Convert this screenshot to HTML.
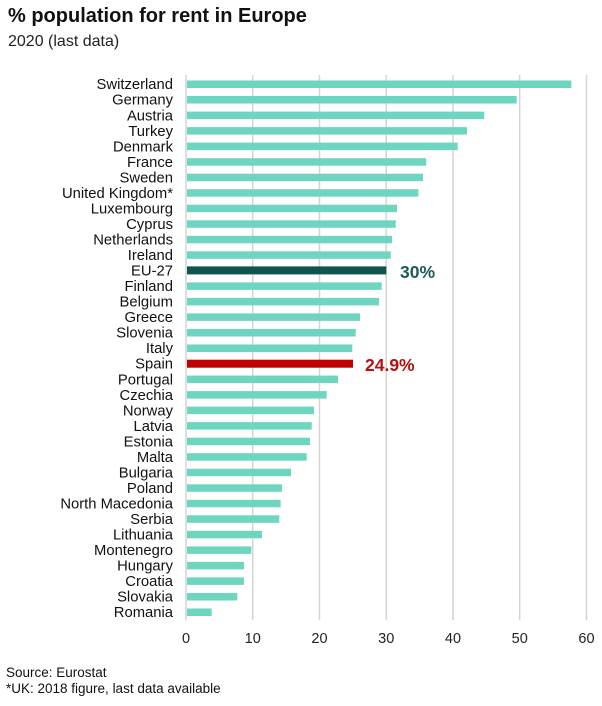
<!DOCTYPE html>
<html><head><meta charset="utf-8"><style>
html,body{margin:0;padding:0;background:#fff;}
svg{display:block;font-family:"Liberation Sans",Arial,sans-serif;}
</style></head><body>
<svg width="602" height="706" viewBox="0 0 602 706" xmlns="http://www.w3.org/2000/svg">
<text x="8" y="22" font-size="20" font-weight="bold" fill="#111">% population for rent in Europe</text>
<text x="8" y="46" font-size="16" fill="#222">2020 (last data)</text>
<g stroke="#d4d4d4" stroke-width="1.5">
<line x1="186" y1="75" x2="186" y2="620"/>
<line x1="252.7" y1="75" x2="252.7" y2="620"/>
<line x1="319.5" y1="75" x2="319.5" y2="620"/>
<line x1="386.2" y1="75" x2="386.2" y2="620"/>
<line x1="453" y1="75" x2="453" y2="620"/>
<line x1="519.7" y1="75" x2="519.7" y2="620"/>
<line x1="586.5" y1="75" x2="586.5" y2="620"/>
</g>
<g font-size="14.5" fill="#222" text-anchor="middle">
<text x="186" y="643">0</text><text x="252.7" y="643">10</text><text x="319.5" y="643">20</text><text x="386.2" y="643">30</text><text x="453" y="643">40</text><text x="519.7" y="643">50</text><text x="586.5" y="643">60</text>
</g>
<g font-size="14.8" fill="#111" text-anchor="end">
<text x="173" y="89.2">Switzerland</text>
<text x="173" y="104.7">Germany</text>
<text x="173" y="120.3">Austria</text>
<text x="173" y="135.8">Turkey</text>
<text x="173" y="151.3">Denmark</text>
<text x="173" y="166.9">France</text>
<text x="173" y="182.4">Sweden</text>
<text x="173" y="197.9">United Kingdom*</text>
<text x="173" y="213.4">Luxembourg</text>
<text x="173" y="229">Cyprus</text>
<text x="173" y="244.5">Netherlands</text>
<text x="173" y="260">Ireland</text>
<text x="173" y="275.6">EU-27</text>
<text x="173" y="291.1">Finland</text>
<text x="173" y="306.6">Belgium</text>
<text x="173" y="322.1">Greece</text>
<text x="173" y="337.7">Slovenia</text>
<text x="173" y="353.2">Italy</text>
<text x="173" y="368.7">Spain</text>
<text x="173" y="384.3">Portugal</text>
<text x="173" y="399.8">Czechia</text>
<text x="173" y="415.3">Norway</text>
<text x="173" y="430.8">Latvia</text>
<text x="173" y="446.4">Estonia</text>
<text x="173" y="461.9">Malta</text>
<text x="173" y="477.4">Bulgaria</text>
<text x="173" y="493">Poland</text>
<text x="173" y="508.5">North Macedonia</text>
<text x="173" y="524">Serbia</text>
<text x="173" y="539.5">Lithuania</text>
<text x="173" y="555.1">Montenegro</text>
<text x="173" y="570.6">Hungary</text>
<text x="173" y="586.1">Croatia</text>
<text x="173" y="601.7">Slovakia</text>
<text x="173" y="617.2">Romania</text>
</g>
<g fill="#6ed6c0">
<rect x="187" y="80.5" width="384.3" height="7.5"/>
<rect x="187" y="96" width="329.7" height="7.5"/>
<rect x="187" y="111.6" width="297.3" height="7.5"/>
<rect x="187" y="127.1" width="280" height="7.5"/>
<rect x="187" y="142.6" width="270.7" height="7.5"/>
<rect x="187" y="158.2" width="239.3" height="7.5"/>
<rect x="187" y="173.7" width="236" height="7.5"/>
<rect x="187" y="189.2" width="231.3" height="7.5"/>
<rect x="187" y="204.7" width="210" height="7.5"/>
<rect x="187" y="220.3" width="208.7" height="7.5"/>
<rect x="187" y="235.8" width="205" height="7.5"/>
<rect x="187" y="251.3" width="203.7" height="7.5"/>
<rect x="187" y="282.4" width="194.7" height="7.5"/>
<rect x="187" y="297.9" width="192" height="7.5"/>
<rect x="187" y="313.4" width="173" height="7.5"/>
<rect x="187" y="329" width="168.7" height="7.5"/>
<rect x="187" y="344.5" width="165.3" height="7.5"/>
<rect x="187" y="375.6" width="151" height="7.5"/>
<rect x="187" y="391.1" width="139.7" height="7.5"/>
<rect x="187" y="406.6" width="127" height="7.5"/>
<rect x="187" y="422.1" width="124.7" height="7.5"/>
<rect x="187" y="437.7" width="123" height="7.5"/>
<rect x="187" y="453.2" width="119.7" height="7.5"/>
<rect x="187" y="468.7" width="104" height="7.5"/>
<rect x="187" y="484.3" width="95" height="7.5"/>
<rect x="187" y="499.8" width="93.7" height="7.5"/>
<rect x="187" y="515.3" width="92.3" height="7.5"/>
<rect x="187" y="530.8" width="75" height="7.5"/>
<rect x="187" y="546.4" width="64.3" height="7.5"/>
<rect x="187" y="561.9" width="57" height="7.5"/>
<rect x="187" y="577.4" width="57" height="7.5"/>
<rect x="187" y="593" width="50.3" height="7.5"/>
<rect x="187" y="608.5" width="24.7" height="7.5"/>
</g>
<rect x="187" y="266.4" width="199.3" height="8" fill="#12524f"/>
<rect x="187" y="359.7" width="166" height="8" fill="#c00000"/>
<text x="400" y="278" font-size="17.5" font-weight="bold" fill="#1d5a58">30%</text>
<text x="365" y="371" font-size="17.5" font-weight="bold" fill="#b80f0f">24.9%</text>
<text x="6" y="677" font-size="13.5" fill="#111">Source: Eurostat</text>
<text x="6" y="693" font-size="13.5" fill="#111">*UK: 2018 figure, last data available</text>
</svg>
</body></html>
